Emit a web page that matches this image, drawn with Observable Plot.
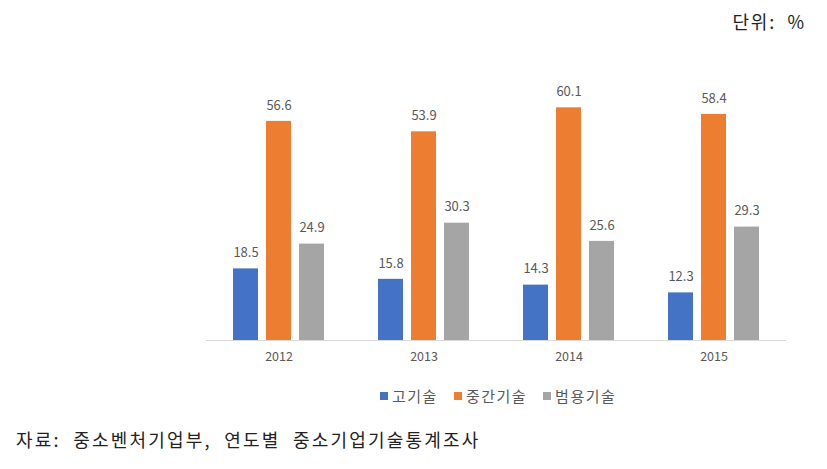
<!DOCTYPE html>
<html>
<head>
<meta charset="utf-8">
<script src="https://cdn.jsdelivr.net/npm/d3@7"></script>
<script src="https://cdn.jsdelivr.net/npm/@observablehq/plot@0.6"></script>
<style>
  html, body { margin: 0; padding: 0; background: #fff; }
  #wrap { position: relative; width: 827px; height: 469px; overflow: hidden; font-family: "Noto Sans CJK KR", "Noto Sans", sans-serif; }
  #unit { position: absolute; top: 8px; right: 21px; font-size: 18px; color: #222; white-space: pre; letter-spacing: 1.8px; }
  #chart { position: absolute; left: 0; top: 0; }
  #legend { position: absolute; top: 385px; left: 380px; font-size: 15px; color: #595959; white-space: nowrap; letter-spacing: 1.5px; }
  #legend span.item { margin-right: 16px; }
  #legend span.sw { display: inline-block; width: 8px; height: 8px; margin-right: 4px; vertical-align: 2px; }
  #caption { position: absolute; top: 426px; left: 16px; font-size: 18px; color: #222; white-space: pre; letter-spacing: 2.2px; }
</style>
</head>
<body>
<div id="wrap">
  <div id="chart"></div>
  <div id="unit">단위:  %</div>
  <div id="legend"></div>
  <div id="caption">자료:  중소벤처기업부,  연도별  중소기업기술통계조사</div>
</div>
<script>
const years = ["2012", "2013", "2014", "2015"];
const categories = ["고기술", "중간기술", "범용기술"];
const colors = ["#4472C4", "#ED7D31", "#A5A5A5"];
const highTech = [18.5, 15.8, 14.3, 12.3];
const midTech = [56.6, 53.9, 60.1, 58.4];
const genTech = [24.9, 30.3, 25.6, 29.3];

const series = [highTech, midTech, genTech];
const data = [];
years.forEach((y, i) => {
  categories.forEach((c, j) => data.push({year: y, cat: c, value: series[j][i]}));
});

const chart = Plot.plot({
  width: 827,
  height: 380,
  marginTop: 69,
  marginBottom: 40,
  marginLeft: 206,
  marginRight: 41,
  style: {fontFamily: "'Noto Sans CJK KR', 'Noto Sans', sans-serif", background: "transparent"},
  fx: {domain: years, padding: 0, label: null, axis: null},
  x: {domain: categories, paddingInner: 0.2424, paddingOuter: 0.818, axis: null},
  y: {domain: [0, 70], axis: null},
  color: {domain: categories, range: colors},
  marks: [
    Plot.axisFx({anchor: "bottom", tickSize: 0, tickPadding: 12, fontSize: 12.5, fill: "#595959", label: null}),
    Plot.barY(data, {fx: "year", x: "cat", y: "value", fill: "cat"}),
    Plot.ruleY([0], {stroke: "#d9d9d9", strokeWidth: 1}),
    Plot.text(data, {fx: "year", x: "cat", y: "value", text: d => d.value.toFixed(1), dy: -16, fill: "#595959", fontSize: 13})
  ]
});
document.getElementById("chart").appendChild(chart);

const legend = document.getElementById("legend");
categories.forEach((c, i) => {
  const item = document.createElement("span");
  item.className = "item";
  const sw = document.createElement("span");
  sw.className = "sw";
  sw.style.background = colors[i];
  item.appendChild(sw);
  item.appendChild(document.createTextNode(c));
  legend.appendChild(item);
});
</script>
</body>
</html>
